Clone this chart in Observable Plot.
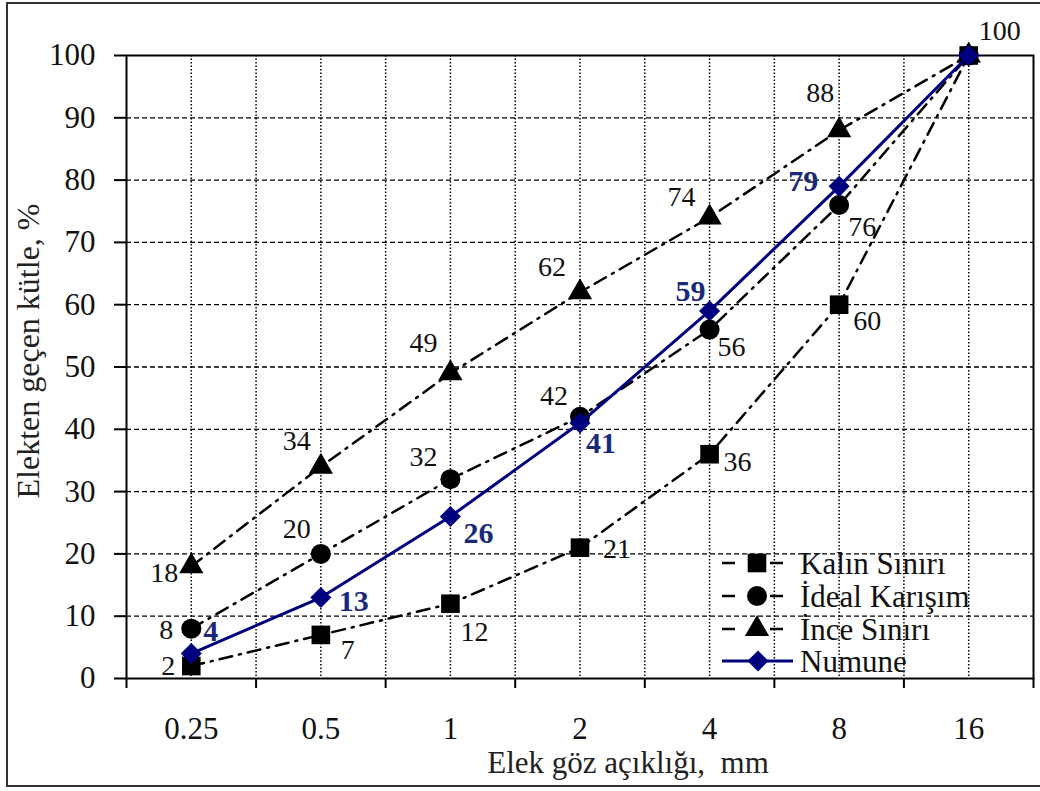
<!DOCTYPE html>
<html>
<head>
<meta charset="utf-8">
<script src="https://cdn.jsdelivr.net/npm/d3@7"></script>
<script src="https://cdn.jsdelivr.net/npm/@observablehq/plot@0.6"></script>
<style>
  html, body { margin: 0; padding: 0; background: #fff; overflow: hidden; }
  #wrap { position: relative; width: 1040px; height: 791px; }
  #border { position: absolute; left: 6px; top: 2px; width: 1100px; height: 785px; border: 2px solid #333; box-sizing: border-box; pointer-events: none; }
</style>
</head>
<body>
<div id="wrap"><div id="border"></div></div>
<script>
// ---- data ----
const sieveSizes = ["0.25", "0.5", "1", "2", "4", "8", "16"];
const kalinSiniri = [2, 7, 12, 21, 36, 60, 100];
const idealKarisim = [8, 20, 32, 42, 56, 76, 100];
const inceSiniri = [18, 34, 49, 62, 74, 88, 100];
const numune = [4, 13, 26, 41, 59, 79, 100];
const seriesNames = ["Kalın Sınırı", "İdeal Karışım", "İnce Sınırı", "Numune"];
const yTicks = [0, 10, 20, 30, 40, 50, 60, 70, 80, 90, 100];
const xTitle = "Elek göz açıklığı,  mm";
const yTitle = "Elekten geçen kütle, %";

// ---- layout config (label placement per point: anchor, dx, dy) ----
const labelPlacement = {
  "Kalın Sınırı": [["end",-16,0],["start",20,15],["start",10,28],["start",23,1],["start",14,8],["start",14,16],["start",10,-24]],
  "İdeal Karışım": [["end",-18,1],["end",-10,-25],["end",-13,-22],["end",-12,-21],["start",8,17],["start",9,22],null],
  "İnce Sınırı": [["end",-13,7],["end",-10,-26],["end",-13,-30],["end",-14,-25],["end",-14,-20],["end",-5,-37],null],
  "Numune": [["start",12,-22],["start",18,4],["start",13,17],["start",6,20],["end",-4,-20],["end",-21,-5],null]
};

const seriesValues = [kalinSiniri, idealKarisim, inceSiniri, numune];
const rows = [];
seriesNames.forEach((s, k) => seriesValues[k].forEach((v, i) => rows.push({series: s, i, size: sieveSizes[i], value: v})));

const NAVY = "#00007f";
const LABEL_NAVY = "#1a2a7a";
const FONT = "'Liberation Serif', 'Times New Roman', serif";
const dashDot = "13,7,2,7";

const idx = sieveSizes.map((_, i) => i);
const halfRules = idx.concat(idx.slice(0, -1).map(i => i + 0.5));
const boundaries = idx.map(i => i - 0.5).concat([idx.length - 0.5]);

const symbolOf = {"Kalın Sınırı": "square", "İdeal Karışım": "circle", "İnce Sınırı": "triangle", "Numune": "diamond2"};
const rOf = {"Kalın Sınırı": 10.5, "İdeal Karışım": 10, "İnce Sınırı": 9, "Numune": 9.5};

const marks = [
  Plot.ruleY(yTicks.filter(v => v > 0 && v < 100), {y: d => d, stroke: "#000", strokeWidth: 1.3, strokeDasharray: "5,3"}),
  Plot.ruleX(halfRules, {x: d => d, stroke: "#000", strokeWidth: 1.5, strokeDasharray: "1.5,2"}),
  Plot.axisY({ticks: yTicks, tickSize: 12, tickPadding: 19, fontSize: 31, strokeWidth: 2, label: null, fill: "#111"}),
  Plot.axisX({ticks: idx, tickSize: 0, tickPadding: 38, fontSize: 31, tickFormat: i => sieveSizes[i], label: null, fill: "#111"}),
  Plot.axisX({ticks: boundaries, tickSize: 10, strokeWidth: 2, tickFormat: () => "", label: null}),
  Plot.frame({stroke: "#000", strokeWidth: 2}),
  Plot.text([yTitle], {text: d => d, frameAnchor: "left", textAnchor: "middle", lineAnchor: "middle", rotate: -90, dx: -98, dy: -16, fontSize: 32, fill: "#222"}),
  Plot.text([xTitle], {text: d => d, frameAnchor: "bottom", textAnchor: "middle", dx: 48, dy: 94, fontSize: 31, fill: "#222"})
];

// black dash-dot series
for (const s of seriesNames.slice(0, 3)) {
  const data = rows.filter(d => d.series === s);
  marks.push(Plot.line(data, {x: "i", y: "value", stroke: "#000", strokeWidth: 2.5, strokeDasharray: dashDot}));
}
for (const s of seriesNames.slice(0, 3)) {
  const data = rows.filter(d => d.series === s);
  marks.push(Plot.dot(data, {x: "i", y: "value", symbol: () => symbolOf[s], r: rOf[s], fill: "#000", stroke: "none"}));
}
// Numune
const numRows = rows.filter(d => d.series === "Numune");
marks.push(Plot.line(numRows, {x: "i", y: "value", stroke: NAVY, strokeWidth: 3}));
marks.push(Plot.dot(numRows, {x: "i", y: "value", symbol: () => "diamond2", r: rOf["Numune"], fill: NAVY, stroke: "none"}));

// labels
for (const s of seriesNames) {
  const data = rows.filter(d => d.series === s);
  data.forEach(d => {
    const p = labelPlacement[s][d.i];
    if (!p) return;
    const isNum = s === "Numune";
    marks.push(Plot.text([d], {
      x: "i", y: "value", text: v => String(v.value),
      textAnchor: p[0], dx: p[1], dy: p[2],
      fontSize: isNum ? 30 : 28, fontWeight: isNum ? "bold" : "normal",
      fill: isNum ? LABEL_NAVY : "#111"
    }));
  });
}

const chart = Plot.plot({
  width: 1040,
  height: 791,
  marginLeft: 126,
  marginRight: 7,
  marginTop: 55,
  marginBottom: 113,
  style: {fontFamily: FONT, background: "transparent", overflow: "visible"},
  x: {type: "linear", domain: [-0.5, idx.length - 0.5]},
  y: {domain: [0, 100]},
  marks
});
document.getElementById("wrap").prepend(chart);

// ---- legend (inside plot area, lower right) ----
const svg = d3.select(chart);
const lg = svg.append("g").attr("font-family", FONT).attr("font-size", 31).attr("text-anchor", "start");
const legendRows = [
  {name: seriesNames[0], y: 563, sym: d3.symbolSquare, r: rOf[seriesNames[0]], color: "#000", black: true},
  {name: seriesNames[1], y: 596, sym: d3.symbolCircle, r: rOf[seriesNames[1]], color: "#000", black: true},
  {name: seriesNames[2], y: 629, sym: d3.symbolTriangle, r: rOf[seriesNames[2]], color: "#000", black: true},
  {name: seriesNames[3], y: 661, sym: d3.symbolDiamond2, r: rOf[seriesNames[3]], color: NAVY, black: false}
];
legendRows.forEach(row => {
  const g = lg.append("g");
  if (row.black) {
    g.append("line").attr("x1", 722).attr("x2", 783).attr("y1", row.y).attr("y2", row.y)
      .attr("stroke", "#000").attr("stroke-width", 2.5).attr("stroke-dasharray", "13,35,13");
  } else {
    g.append("line").attr("x1", 722).attr("x2", 793).attr("y1", row.y).attr("y2", row.y)
      .attr("stroke", NAVY).attr("stroke-width", 3);
  }
  g.append("path").attr("transform", `translate(${row.black ? 757 : 758},${row.y})`)
    .attr("d", d3.symbol().type(row.sym).size(Math.PI * row.r * row.r)()).attr("fill", row.color);
  g.append("text").attr("x", 800).attr("y", row.y).attr("dy", "0.35em").attr("fill", "#111").attr("text-anchor", "start").text(row.name);
});
</script>
</body>
</html>
